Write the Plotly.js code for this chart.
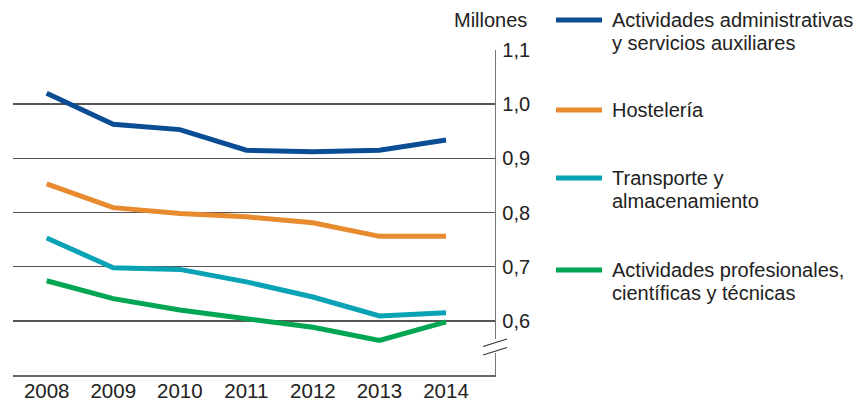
<!DOCTYPE html>
<html>
<head>
<meta charset="utf-8">
<script src="https://cdn.plot.ly/plotly-3.0.1.min.js"></script>
<style>html,body{margin:0;padding:0;background:#fff}#chart{width:856px;height:400px}</style>
</head>
<body>
<div id="chart"></div>
<script>
var years = [2008, 2009, 2010, 2011, 2012, 2013, 2014];
var yearLabels = ["2008", "2009", "2010", "2011", "2012", "2013", "2014"];
var administrativas = [1.020, 0.963, 0.953, 0.915, 0.912, 0.915, 0.934];
var hosteleria = [0.853, 0.809, 0.798, 0.792, 0.781, 0.756, 0.756];
var transporte = [0.753, 0.698, 0.695, 0.672, 0.644, 0.609, 0.615];
var profesionales = [0.674, 0.641, 0.620, 0.604, 0.588, 0.564, 0.598];
var seriesNames = [
  ["Actividades administrativas", "y servicios auxiliares"],
  ["Hostelería"],
  ["Transporte y", "almacenamiento"],
  ["Actividades profesionales,", "científicas y técnicas"]
];
var yTicks = [0.6, 0.7, 0.8, 0.9, 1.0, 1.1];
var unitLabel = "Millones";
var colors = ["#0a4d95", "#e88b2f", "#0aa2b5", "#00a651"];
var seriesValues = [administrativas, hosteleria, transporte, profesionales];

var FONT = "Liberation Sans, Arial, Helvetica, sans-serif";
var TXT = "#222";

// plot area in pixels
var L = 13, R = 495, T = 50, B = 375;
function px(xp) { return (xp - L) / (R - L); }
function py(yp) { return (B - yp) / (B - T); }

var traces = seriesValues.map(function (v, i) {
  return {
    x: years, y: v, type: "scatter", mode: "lines",
    name: seriesNames[i].join(" "),
    line: {color: colors[i], width: 5},
    hoverinfo: "skip", showlegend: false
  };
});

// legend (keys + text) placed in the right margin
var legendFirstLine = [20, 110, 178, 270];
var lineStep = 23;
var annotations = [{
  text: unitLabel, xref: "paper", yref: "paper",
  x: px(490), y: py(20), xanchor: "center", yanchor: "middle",
  showarrow: false, font: {family: FONT, size: 20, color: TXT}
}];
var shapes = [];
seriesNames.forEach(function (lines, i) {
  var y0 = legendFirstLine[i];
  shapes.push({type: "line", xref: "paper", yref: "paper",
    x0: px(556), x1: px(602), y0: py(y0), y1: py(y0),
    line: {color: colors[i], width: 5}});
  lines.forEach(function (t, k) {
    annotations.push({
      text: t, xref: "paper", yref: "paper",
      x: px(610), y: py(y0 + k * lineStep), xanchor: "left", yanchor: "middle",
      showarrow: false, font: {family: FONT, size: 20, color: TXT}
    });
  });
});
// axis break marks
shapes.push(
  {type: "rect", xref: "paper", yref: "paper", x0: px(490), x1: px(500), y0: py(353), y1: py(339),
   fillcolor: "#fff", line: {width: 0}, layer: "above"},
  {type: "line", xref: "paper", yref: "paper", x0: px(483), x1: px(507), y0: py(346.5), y1: py(339),
   line: {color: "#333", width: 1.3}, layer: "above"},
  {type: "line", xref: "paper", yref: "paper", x0: px(483), x1: px(507), y0: py(355), y1: py(347.5),
   line: {color: "#333", width: 1.3}, layer: "above"}
);

var layout = {
  width: 856, height: 400,
  margin: {l: L, r: 856 - R, t: T, b: 400 - B, pad: 0, autoexpand: false},
  paper_bgcolor: "#fff", plot_bgcolor: "#fff",
  font: {family: FONT, size: 20, color: TXT},
  separators: ", ",
  showlegend: false,
  xaxis: {
    range: [2007.494, 2014.736],
    tickvals: years, ticktext: yearLabels,
    showgrid: false, zeroline: false,
    showline: true, linecolor: "#666", linewidth: 1.5,
    ticks: "", ticklen: 0, ticklabelstandoff: -3,
    tickfont: {family: FONT, size: 20.5, color: TXT}
  },
  yaxis: {
    side: "right", range: [0.5, 1.1],
    tickvals: yTicks, tickformat: ".1f",
    showgrid: true, gridcolor: "#555", gridwidth: 1.5,
    zeroline: false, showline: true, linecolor: "#777", linewidth: 1.3,
    ticks: "outside", ticklen: 2, tickcolor: "rgba(0,0,0,0)",
    tickfont: {family: FONT, size: 20, color: TXT}
  },
  annotations: annotations,
  shapes: shapes
};

Plotly.newPlot("chart", traces, layout, {displayModeBar: false, staticPlot: true});
</script>
</body>
</html>
